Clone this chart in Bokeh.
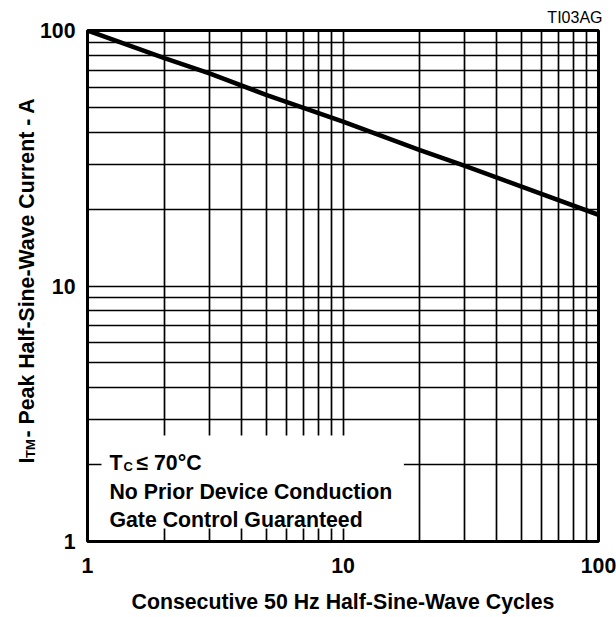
import math
from bokeh.plotting import figure
from bokeh.layouts import row
from bokeh.models import FixedTicker, Label, BoxAnnotation, Range1d, Title
from bokeh.core.properties import value
from bokeh.embed import file_html
from bokeh.resources import INLINE

# ---- data ----
cycles = [1, 2, 3, 5, 10, 20, 30, 50, 100]
current = [100, 78, 68, 56, 44, 34, 29.5, 24.5, 19]
major_ticks = [1, 10, 100]
minor_ticks = [2, 3, 4, 5, 6, 7, 8, 9, 20, 30, 40, 50, 60, 70, 80, 90]
x_title = "Consecutive 50 Hz Half-Sine-Wave Cycles"
y_title_main = "I"
y_title_sub = "TM"
y_title_rest = " - Peak Half-Sine-Wave Current - A"
note_lines = ["No Prior Device Conduction", "Gate Control Guaranteed"]
fig_id = "TI03AG"

FONT = "Liberation Sans"
H = 616
LW = 36                      # width of the strip carrying the y title
W = 616 - LW                 # main figure width
FL, FR, FT, FB = 86, 598, 30, 541  # frame edges in page px
BIG = "21.3px"


def X(px):
    return 10 ** (2.0 * (px - FL) / (FR - FL))


def Y(py):
    return 10 ** (2.0 * (FB - py) / (FB - FT))


p = figure(width=W, height=H, x_axis_type="log", y_axis_type="log",
           x_range=Range1d(1, 100), y_range=Range1d(1, 100),
           output_backend="svg", toolbar_location=None,
           min_border_left=FL - LW, min_border_right=616 - FR,
           min_border_top=FT, min_border_bottom=H - FB)
p.background_fill_color = "white"
p.border_fill_color = "white"
p.outline_line_color = "black"
p.outline_line_width = 3

for ax in (p.xaxis[0], p.yaxis[0]):
    ax.ticker = FixedTicker(ticks=major_ticks, minor_ticks=minor_ticks)
    ax.major_label_overrides = {t: str(t) for t in major_ticks}
    ax.axis_line_color = None
    ax.major_tick_line_color = None
    ax.minor_tick_line_color = None
    ax.major_tick_out = 0
    ax.major_tick_in = 0
    ax.minor_tick_out = 0
    ax.minor_tick_in = 0
    ax.major_label_text_font = FONT
    ax.major_label_text_font_style = "bold"
    ax.major_label_text_font_size = BIG
    ax.major_label_text_color = "black"

p.xaxis.major_label_standoff = 16
p.yaxis.major_label_standoff = 12
p.xaxis.axis_label = x_title
p.xaxis.axis_label_text_font = FONT
p.xaxis.axis_label_text_font_style = "bold"
p.xaxis.axis_label_text_font_size = BIG
p.xaxis.axis_label_text_color = "black"
p.xaxis.axis_label_standoff = 14

p.title = Title(text=fig_id, align="right", text_font=FONT, text_font_size="16px",
                text_font_style="normal", text_color="black", standoff=9, offset=-4)

for g in (p.xgrid, p.ygrid):
    g.grid_line_color = "black"
    g.grid_line_width = 1.7
    g.minor_grid_line_color = "black"
    g.minor_grid_line_width = 1.7

p.line(cycles, current, line_width=4.5, line_color="black")

# white note box
p.add_layout(BoxAnnotation(left=X(100), right=X(403), top=Y(435), bottom=Y(528),
                           fill_color="white", fill_alpha=1.0, line_color=None))


def lab(x, y, text, size=BIG, style="bold"):
    p.add_layout(Label(x=x, y=y, text=text, text_font=FONT, text_font_size=size,
                       text_font_style=style, text_color="black", text_align="left",
                       text_baseline="alphabetic"))


lab(X(108), Y(462), "T")
lab(X(122), Y(466), "C", size="13px")
lab(X(135), Y(462), "\u2264 70\u00b0C")
lab(X(108), Y(491), note_lines[0])
lab(X(108), Y(519), note_lines[1])

# left strip with the rotated y-axis title.  The row aligns this strip's frame with the
# main frame (page y 30..541), so its y range is set to page pixels measured from the bottom.
q = figure(width=LW, height=H, title=None,
           x_axis_location=None, y_axis_location=None,
           x_range=Range1d(0, LW), y_range=Range1d(H - FB, H - FT),
           output_backend="svg", toolbar_location=None,
           min_border=0, min_border_left=0, min_border_right=0,
           min_border_top=0, min_border_bottom=0)
q.grid.visible = False
q.outline_line_color = None
q.background_fill_color = "white"
q.border_fill_color = "white"


def qtext(px, py, text, size=BIG):
    q.text(x=[px], y=[H - py], text=[text], angle=math.pi / 2,
           text_font=value(FONT), text_font_size=value(size), text_font_style="bold",
           text_color="black", text_align="left", text_baseline="alphabetic")


qtext(26, 463, y_title_main)
qtext(30, 457.5, y_title_sub, size="13px")
qtext(26, 437, y_title_rest)

layout = row(q, p)
open("out.html", "w").write(file_html(layout, INLINE))
